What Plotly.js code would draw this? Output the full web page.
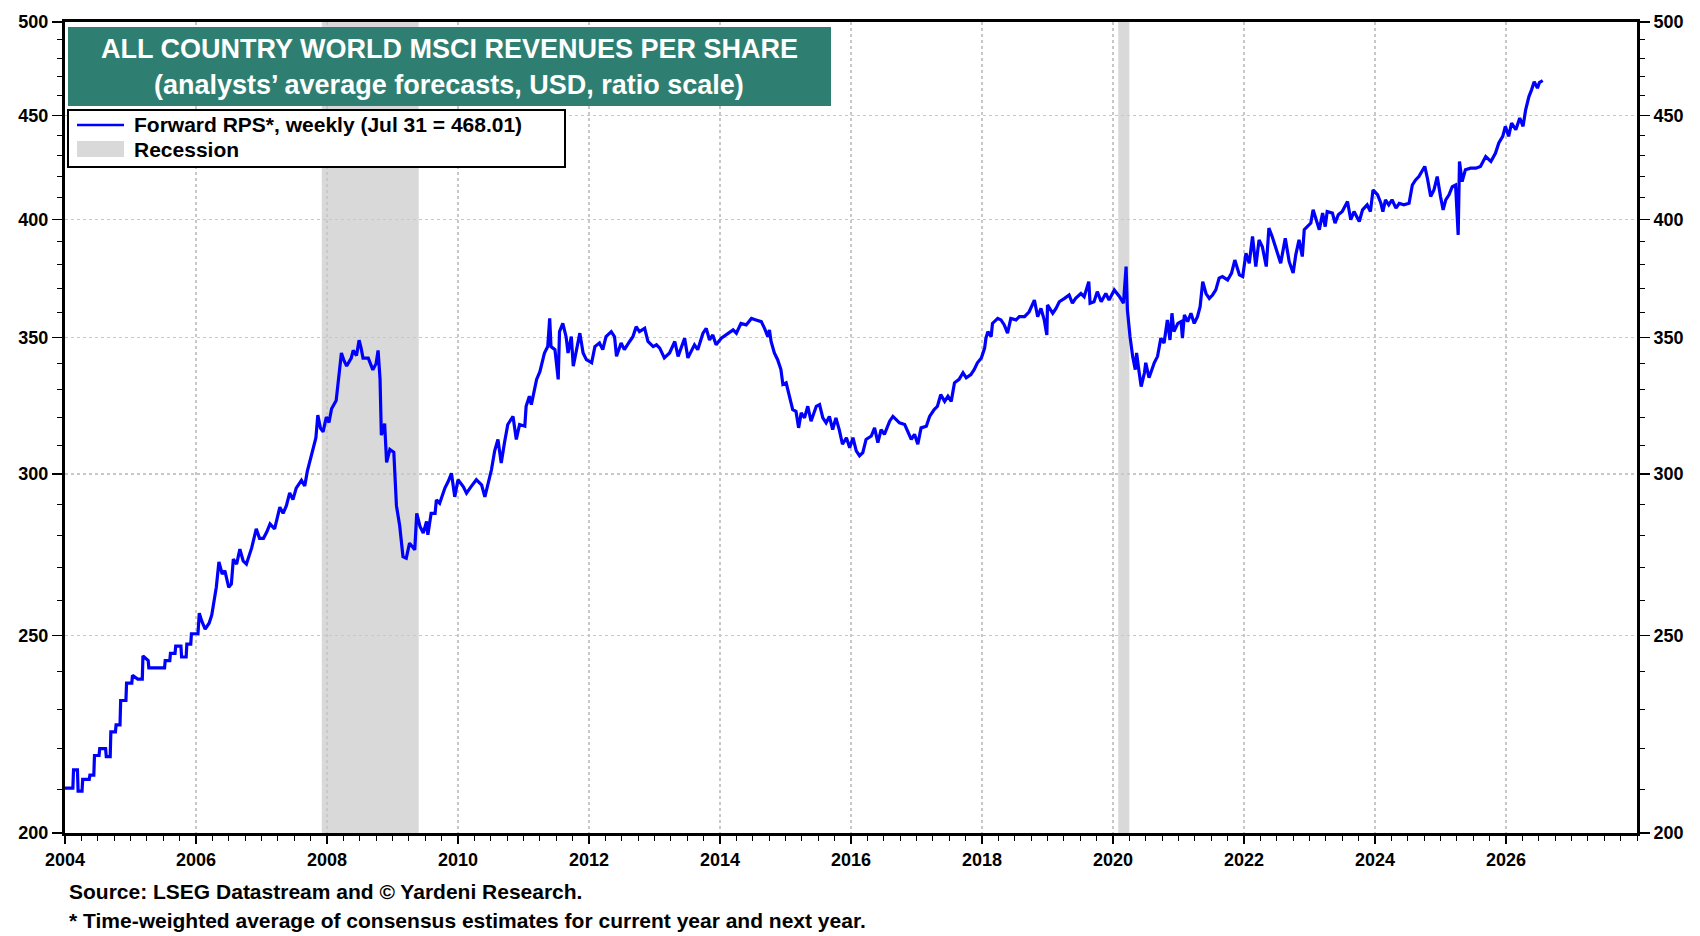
<!DOCTYPE html>
<html>
<head>
<meta charset="utf-8">
<script src="https://cdn.plot.ly/plotly-3.0.1.min.js"></script>
<style>
  html, body { margin: 0; padding: 0; background: #fff; }
  #chart { width: 1700px; height: 936px; }
</style>
</head>
<body>
<div id="chart"></div>
<script>
// weekly forward revenues per share (decimal years)
const weekYears = [
  2004.00,2004.12,2004.13,2004.19,2004.20,2004.26,2004.27,2004.37,2004.38,2004.44,
  2004.45,2004.52,2004.53,2004.62,2004.63,2004.69,2004.70,2004.77,2004.78,2004.84,
  2004.85,2004.93,2004.94,2005.02,2005.03,2005.11,2005.18,2005.19,2005.27,2005.28,
  2005.52,2005.53,2005.60,2005.61,2005.68,2005.69,2005.77,2005.78,2005.85,2005.86,
  2005.92,2005.93,2006.03,2006.05,2006.09,2006.14,2006.20,2006.24,2006.31,2006.35,
  2006.40,2006.44,2006.50,2006.54,2006.57,2006.62,2006.67,2006.72,2006.77,2006.85,
  2006.92,2006.97,2007.03,2007.08,2007.13,2007.20,2007.28,2007.33,2007.38,2007.43,
  2007.48,2007.53,2007.61,2007.66,2007.70,2007.76,2007.83,2007.86,2007.90,2007.94,
  2007.99,2008.03,2008.07,2008.14,2008.19,2008.22,2008.26,2008.30,2008.37,2008.40,
  2008.45,2008.49,2008.52,2008.55,2008.63,2008.70,2008.75,2008.78,2008.81,2008.83,
  2008.88,2008.91,2008.96,2009.02,2009.06,2009.11,
  2009.16,2009.21,2009.26,2009.34,2009.37,2009.42,2009.47,2009.52,2009.54,2009.59,
  2009.65,2009.67,2009.72,2009.80,2009.85,2009.90,2009.95,2010.00,2010.08,2010.13,
  2010.20,2010.28,2010.36,2010.41,2010.51,2010.56,2010.61,2010.66,2010.71,2010.76,
  2010.84,2010.89,2010.94,2011.02,2011.04,2011.09,2011.12,2011.20,2011.25,2011.32,
  2011.37,2011.40,2011.42,2011.48,2011.53,2011.55,2011.60,2011.65,2011.68,2011.73,
  2011.76,2011.81,2011.86,2011.91,2011.96,2012.04,2012.09,2012.16,2012.21,2012.26,
  2012.34,2012.39,2012.42,2012.49,2012.54,2012.62,2012.67,2012.72,2012.77,2012.85,
  2012.90,2012.98,2013.03,2013.08,2013.15,2013.23,2013.31,2013.36,2013.46,2013.51,
  2013.61,2013.66,2013.74,2013.79,2013.84,2013.89,2013.94,2014.02,2014.09,2014.20,
  2014.25,2014.32,2014.40,2014.48,2014.55,2014.63,2014.68,2014.73,2014.755,2014.78,
  2014.83,2014.88,2014.93,2014.96,2015.01,2015.06,2015.11,2015.16,2015.20,2015.24,
  2015.29,2015.34,2015.39,2015.47,2015.52,2015.57,2015.62,2015.67,2015.72,2015.77,
  2015.82,2015.87,2015.93,2015.98,2016.03,2016.08,2016.13,2016.18,2016.23,2016.31,
  2016.36,2016.41,2016.46,2016.51,2016.59,2016.64,2016.69,2016.74,2016.82,2016.87,
  2016.92,2016.97,2017.02,2017.07,2017.15,2017.20,2017.27,2017.32,2017.37,2017.43,
  2017.48,2017.53,2017.58,2017.65,2017.71,2017.76,2017.83,2017.88,2017.93,2017.99,
  2018.04,2018.06,2018.09,2018.14,2018.16,2018.24,2018.29,2018.34,2018.39,2018.44,
  2018.52,2018.57,2018.65,2018.72,2018.80,2018.85,2018.90,2018.95,2018.99,2019.00,
  2019.08,2019.13,2019.18,2019.26,2019.33,2019.38,2019.43,2019.51,2019.56,2019.63,
  2019.65,2019.71,2019.76,2019.82,2019.89,2019.94,2020.02,2020.10,2020.16,2020.20,
  2020.22,2020.26,2020.30,2020.34,2020.36,2020.40,2020.43,2020.48,2020.50,2020.55,
  2020.63,2020.68,2020.73,2020.78,2020.83,2020.87,2020.90,2020.93,2020.99,2021.04,
  2021.06,2021.09,2021.14,2021.19,2021.24,2021.29,2021.33,2021.37,2021.42,2021.47,
  2021.52,2021.57,2021.62,2021.67,2021.75,2021.81,2021.86,2021.93,2021.98,2022.03,
  2022.08,2022.13,2022.18,2022.23,2022.28,2022.34,2022.38,2022.43,2022.49,2022.56,
  2022.63,2022.69,2022.75,2022.79,
  2022.84,2022.89,2022.92,2022.97,2023.02,2023.055,2023.10,2023.15,2023.20,2023.24,
  2023.27,2023.35,2023.39,2023.44,2023.50,2023.58,2023.63,2023.68,2023.76,2023.81,
  2023.88,2023.93,2023.97,2024.04,2024.09,2024.12,2024.16,2024.21,2024.26,2024.32,
  2024.37,2024.44,2024.52,2024.57,2024.62,2024.67,2024.73,2024.76,2024.80,2024.85,
  2024.90,2024.95,2025.00,2025.04,2025.08,2025.13,2025.18,2025.23,2025.27,2025.29,
  2025.33,2025.38,2025.46,2025.54,2025.61,2025.69,2025.77,2025.84,2025.89,2025.95,
  2025.99,2026.04,2026.085,2026.15,2026.21,2026.26,2026.30,2026.35,2026.39,2026.43,
  2026.48,2026.51,2026.56
];
const forwardRps = [
  210.4,210.4,214.8,214.8,209.7,209.7,212.5,212.5,213.5,213.5,
  218.3,218.3,220.0,220.0,218.0,218.0,224.2,224.2,226.0,226.0,
  232.3,232.3,236.9,236.9,239.0,238.0,238.0,244.3,243.0,241.0,
  241.0,243.0,243.0,245.0,245.0,247.0,247.0,244.0,244.0,247.6,
  247.6,250.5,250.5,256.4,254.0,251.8,253.5,255.8,264.0,271.7,
  268.0,269.0,264.0,265.0,272.5,271.0,275.6,272.0,271.0,276.0,
  282.0,279.0,279.0,281.0,283.6,282.0,289.0,287.0,289.5,293.7,
  291.5,295.3,297.9,296.0,301.0,306.7,312.5,320.7,316.0,314.7,
  320.0,318.0,323.0,326.0,337.5,344.0,341.0,339.0,342.0,345.0,
  343.0,349.0,346.0,342.0,342.0,337.5,340.0,345.0,334.0,313.5,
  317.6,304.0,308.5,307.5,289.5,283.0,
  273.3,272.8,277.5,275.4,287.0,282.8,280.7,284.4,280.1,287.0,
  287.0,291.4,290.3,295.3,297.5,300.3,292.4,298.1,295.8,293.6,
  295.8,298.1,296.4,292.4,301.4,308.0,312.0,303.8,310.9,317.3,
  320.2,312.0,317.3,316.7,323.9,327.6,324.5,333.9,336.8,344.0,
  346.5,357.7,346.5,345.3,333.9,352.4,355.7,350.4,344.0,350.4,
  338.9,345.3,351.8,344.0,341.4,340.2,346.5,347.9,345.3,350.4,
  352.4,350.4,342.7,347.9,345.3,348.5,350.4,354.4,352.4,353.7,
  348.5,346.5,347.2,345.9,342.1,344.0,348.5,342.7,349.8,342.1,
  347.2,345.3,351.8,353.7,349.1,351.1,347.2,349.8,351.1,353.1,
  351.8,355.7,355.1,357.7,357.1,356.4,353.7,350.4,353.1,348.5,
  344.0,341.4,337.6,332.0,332.6,327.6,322.7,322.1,316.1,321.5,
  319.7,323.9,318.5,323.9,324.5,319.7,317.9,320.2,315.5,319.7,
  315.5,310.3,312.6,309.1,312.6,308.0,306.3,307.4,312.0,313.2,
  316.1,310.9,315.5,313.8,318.5,320.2,319.1,317.9,317.3,314.4,
  312.0,313.8,310.3,316.1,316.7,320.2,322.7,323.9,328.2,325.7,
  327.6,325.7,332.6,333.9,336.4,334.5,335.7,337.6,340.2,342.1,
  345.9,349.8,352.4,350.4,355.7,357.7,357.1,355.1,351.8,357.7,
  357.1,358.4,358.4,360.4,365.2,358.4,361.8,357.1,351.1,363.2,
  359.8,361.8,364.5,365.9,367.3,363.9,365.9,367.9,366.6,372.9,
  363.9,364.5,368.7,364.5,367.9,365.2,369.4,366.6,363.9,379.3,
  361.1,350.4,342.7,337.6,344.0,336.4,331.2,336.4,340.2,334.5,
  340.2,342.7,349.8,347.9,357.1,349.1,359.8,352.4,355.7,356.4,
  349.8,359.1,356.4,359.8,355.7,358.4,362.5,372.9,367.9,365.9,
  367.3,369.4,374.4,375.0,373.6,376.5,382.1,375.7,375.0,385.0,
  380.7,392.4,379.3,390.9,387.9,379.3,396.1,392.4,386.4,380.7,
  391.6,381.4,376.5,384.3,
  390.9,383.6,395.4,396.8,398.4,404.4,399.9,395.4,402.9,396.8,
  403.6,402.9,398.4,402.2,403.6,408.2,399.9,403.6,399.1,404.4,
  406.7,403.6,413.6,411.3,407.4,403.6,409.0,406.7,409.0,405.2,
  407.4,406.7,407.4,415.9,418.3,419.9,423.1,424.7,419.1,410.5,
  413.6,419.9,410.5,404.4,409.0,411.3,415.1,415.9,393.1,427.1,
  417.5,423.1,423.9,423.9,424.7,429.5,427.1,431.2,436.1,439.4,
  444.4,439.4,446.0,442.7,448.6,444.4,452.8,459.6,463.1,467.4,
  464.0,466.9,468.01
];

// recessions
const recStart = [2007.92, 2020.08];
const recEnd = [2009.40, 2020.25];

// axis ticks
const yearTicks = [2004,2006,2008,2010,2012,2014,2016,2018,2020,2022,2024,2026];
const yTicks = [200,250,300,350,400,450,500];
const yMinor = [210,220,230,240,260,270,280,290,310,320,330,340,360,370,380,390,410,420,430,440,460,470,480,490];

const FONT = 'Liberation Sans, Arial, sans-serif';

// plot area in pixels, used to place the boxes and notes
const L = 65, R = 1637, T = 22, B = 833;
function px(x) { return (x - L) / (R - L); }
function py(y) { return 1 - (y - T) / (B - T); }

const traces = [
  {
    x: weekYears,
    y: forwardRps,
    type: 'scatter',
    mode: 'lines',
    line: { color: '#0000ff', width: 3.2 },
    hoverinfo: 'x+y',
    showlegend: false
  },
  {
    x: weekYears,
    y: forwardRps,
    yaxis: 'y2',
    type: 'scatter',
    mode: 'lines',
    line: { color: 'rgba(0,0,0,0)', width: 0 },
    hoverinfo: 'skip',
    showlegend: false
  }
];

const shapes = recStart.map((s, i) => ({
  type: 'rect', xref: 'x', yref: 'paper',
  x0: s, x1: recEnd[i], y0: 0, y1: 1,
  fillcolor: '#d9d9d9', line: { width: 0 }, layer: 'below'
}));

// title box
shapes.push({
  type: 'rect', xref: 'paper', yref: 'paper',
  x0: px(68), x1: px(831), y0: py(106), y1: py(27),
  fillcolor: '#2e7f71', line: { width: 0 }, layer: 'above'
});
// legend box
shapes.push({
  type: 'rect', xref: 'paper', yref: 'paper',
  x0: px(68), x1: px(565), y0: py(167), y1: py(110),
  fillcolor: '#ffffff', line: { color: '#000', width: 2 }, layer: 'above'
});
shapes.push({
  type: 'line', xref: 'paper', yref: 'paper',
  x0: px(77), x1: px(124), y0: py(125), y1: py(125),
  line: { color: '#0000ff', width: 2.5 }, layer: 'above'
});
shapes.push({
  type: 'rect', xref: 'paper', yref: 'paper',
  x0: px(77), x1: px(124), y0: py(157), y1: py(141),
  fillcolor: '#d9d9d9', line: { width: 0 }, layer: 'above'
});

const annotations = [
  { text: 'ALL COUNTRY WORLD MSCI REVENUES PER SHARE', x: px(449), y: py(49), xanchor: 'center',
    font: { color: '#fff', size: 27, weight: 'bold', family: FONT } },
  { text: '(analysts’ average forecasts, USD, ratio scale)', x: px(449), y: py(85), xanchor: 'center',
    font: { color: '#fff', size: 27, weight: 'bold', family: FONT } },
  { text: 'Forward RPS*, weekly (Jul 31 = 468.01)', x: px(132), y: py(125), xanchor: 'left',
    font: { color: '#000', size: 21, weight: 'bold', family: FONT } },
  { text: 'Recession', x: px(132), y: py(149), xanchor: 'left',
    font: { color: '#000', size: 21, weight: 'bold', family: FONT } },
  { text: 'Source: LSEG Datastream and © Yardeni Research.', x: px(67), y: py(891), xanchor: 'left',
    font: { color: '#000', size: 21, weight: 'bold', family: FONT } },
  { text: '* Time-weighted average of consensus estimates for current year and next year.', x: px(67), y: py(921), xanchor: 'left',
    font: { color: '#000', size: 21, weight: 'bold', family: FONT } }
].map(a => Object.assign({ xref: 'paper', yref: 'paper', showarrow: false, yanchor: 'middle' }, a));

const yAxisBase = {
  type: 'log',
  range: [Math.log10(200), Math.log10(500)],
  tickmode: 'array',
  tickvals: yTicks,
  ticktext: yTicks.map(String),
  ticks: 'outside', ticklen: 10, tickwidth: 1.5, tickcolor: '#000',
  minor: { tickmode: 'array', tickvals: yMinor, ticks: 'outside', ticklen: 5, tickwidth: 1, tickcolor: '#000', showgrid: false },
  showline: true, linecolor: '#000', linewidth: 3,
  zeroline: false, fixedrange: true,
  tickfont: { size: 18, weight: 'bold', family: FONT, color: '#000' }
};

const layout = {
  width: 1700,
  height: 936,
  margin: { l: L, r: 1700 - R, t: T, b: 936 - B, pad: 0 },
  paper_bgcolor: '#fff',
  plot_bgcolor: '#fff',
  showlegend: false,
  xaxis: {
    range: [2004, 2028],
    tickmode: 'array',
    tickvals: yearTicks,
    ticktext: yearTicks.map(String),
    ticks: 'outside', ticklen: 8, tickwidth: 1.5, tickcolor: '#000',
    minor: { dtick: 0.25, tick0: 2004, ticks: 'outside', ticklen: 5, tickwidth: 1, tickcolor: '#000', showgrid: false },
    showgrid: true, gridcolor: '#c8c8c8', griddash: 'dot', gridwidth: 1.5,
    showline: true, linecolor: '#000', linewidth: 3, mirror: true,
    zeroline: false, fixedrange: true,
    tickfont: { size: 18, weight: 'bold', family: FONT, color: '#000' }
  },
  yaxis: Object.assign({}, yAxisBase, {
    side: 'left',
    showgrid: true, gridcolor: '#c8c8c8', griddash: 'dot', gridwidth: 1.5
  }),
  yaxis2: Object.assign({}, yAxisBase, {
    side: 'right', overlaying: 'y', showgrid: false
  }),
  shapes: shapes,
  annotations: annotations
};

Plotly.newPlot('chart', traces, layout, { displayModeBar: false, staticPlot: true });
</script>
</body>
</html>
